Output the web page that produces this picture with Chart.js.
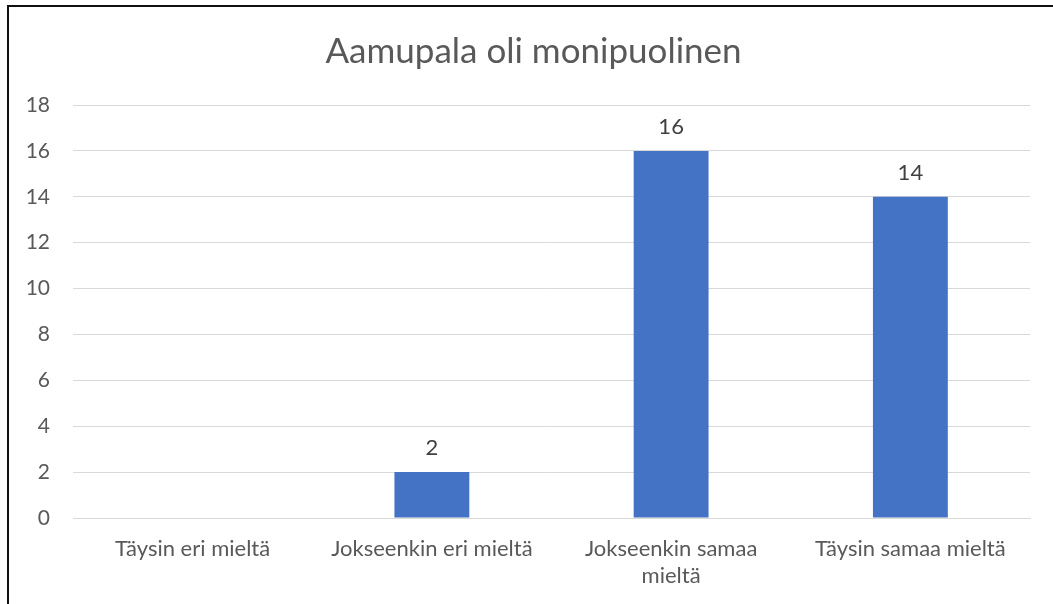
<!DOCTYPE html>
<html>
<head>
<meta charset="utf-8">
<script src="https://cdn.jsdelivr.net/npm/chart.js@4/dist/chart.umd.min.js"></script>
<style>
  html, body { margin: 0; padding: 0; background: #fff; }
  #wrap { width: 1053px; height: 604px; position: relative; }
</style>
</head>
<body>
<div id="wrap"><canvas id="myChart"></canvas></div>
<script>
const chartTitle = 'Aamupala oli monipuolinen';
const categories = [
    'Täysin eri mieltä',
    'Jokseenkin eri mieltä',
    ['Jokseenkin samaa', 'mieltä'],
    'Täysin samaa mieltä'
];
const answers = [0, 2, 16, 14];
const yTicks = [0, 2, 4, 6, 8, 10, 12, 14, 16, 18];

const fontFamily = 'Lato, "Open Sans", sans-serif';
const textColor = '#595959';

// value labels above the bars (0 is left out like in the original)
const barLabels = {
    id: 'barLabels',
    afterDatasetsDraw(chart) {
        const ctx = chart.ctx;
        const meta = chart.getDatasetMeta(0);
        ctx.save();
        ctx.font = '22px ' + fontFamily;
        ctx.fillStyle = '#404040';
        ctx.textAlign = 'center';
        ctx.textBaseline = 'middle';
        meta.data.forEach((bar, i) => {
            const v = chart.data.datasets[0].data[i];
            if (v === 0) return;
            ctx.fillText(String(v), bar.x, bar.y - 24);
        });
        ctx.restore();
    }
};

// title centred over the whole box (excel puts it a bit right of the plot centre)
// plus the outline of the box, only left and top edges show
const frame = {
    id: 'frame',
    afterDraw(chart) {
        const ctx = chart.ctx;
        ctx.save();
        ctx.font = '35px ' + fontFamily;
        ctx.fillStyle = textColor;
        ctx.textAlign = 'center';
        ctx.textBaseline = 'middle';
        ctx.fillText(chartTitle, (8 + chart.width + 6) / 2, 52);
        ctx.fillStyle = '#111';
        ctx.fillRect(7, 5, 2, chart.height);
        ctx.fillRect(7, 5, chart.width, 2);
        ctx.restore();
    }
};

var ctx = document.getElementById('myChart').getContext('2d');
new Chart(ctx, {
    type: 'bar',
    data: {
        labels: categories,
        datasets: [{
            data: answers,
            backgroundColor: '#4472C4',
            categoryPercentage: 1,
            barPercentage: 0.313
        }]
    },
    options: {
        responsive: true,
        maintainAspectRatio: false,
        animation: false,
        layout: { padding: { left: 0, right: 23, top: 105, bottom: 0 } },
        plugins: {
            legend: { display: false },
            tooltip: { enabled: false },
            title: { display: false }
        },
        scales: {
            x: {
                grid: { display: false, drawTicks: false },
                border: { display: true, color: '#d9d9d9', width: 1 },
                ticks: {
                    color: textColor,
                    font: { family: fontFamily, size: 22, lineHeight: 1.25 },
                    padding: 17,
                    maxRotation: 0
                },
                afterFit(scale) { scale.height = 86; }
            },
            y: {
                min: 0,
                max: 18,
                afterBuildTicks(scale) {
                    scale.ticks = yTicks.map(v => ({ value: v }));
                },
                grid: { color: '#d9d9d9', lineWidth: 1, drawTicks: false },
                border: { display: false },
                ticks: {
                    color: textColor,
                    font: { family: fontFamily, size: 21 },
                    padding: 23
                },
                afterFit(scale) { scale.width = 73; }
            }
        }
    },
    plugins: [barLabels, frame]
});
</script>
</body>
</html>
